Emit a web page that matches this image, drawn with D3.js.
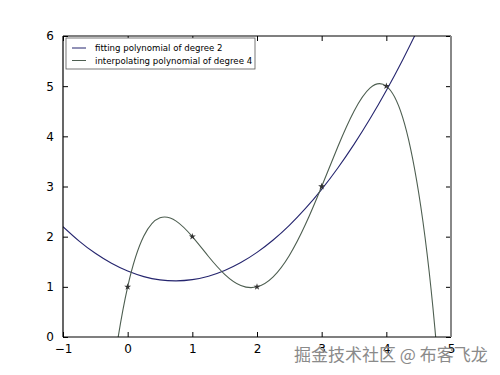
<!DOCTYPE html>
<html>
<head>
<meta charset="utf-8">
<script src="https://cdn.jsdelivr.net/npm/d3@7"></script>
<style>
  body { margin: 0; background: #fff; }
  text { font-family: "DejaVu Sans", sans-serif; }
</style>
</head>
<body>
<script>
var width = 500,
    height = 375;

// data points
var pointsX = [0, 1, 2, 3, 4],
    pointsY = [1, 2, 1, 3, 5];

var curveX = [-1, -0.75, -0.5, -0.25, 0, 0.25, 0.5, 0.75, 1, 1.25, 1.5, 1.75, 2, 2.25, 2.5, 2.75, 3, 3.25, 3.5, 3.75, 4, 4.25, 4.5, 4.75, 5];
var fitY = [2.2, 1.912, 1.668, 1.469, 1.314, 1.204, 1.139, 1.119, 1.143, 1.212, 1.325, 1.483, 1.686, 1.933, 2.225, 2.562, 2.943, 3.369, 3.839, 4.354, 4.914, 5.519, 6.168, 6.862, 7.6];
var interpX = [-0.75, -0.5, -0.25, 0, 0.25, 0.5, 0.75, 1, 1.25, 1.5, 1.75, 2, 2.25, 2.5, 2.75, 3, 3.25, 3.5, 3.75, 4, 4.25, 4.5, 4.75, 5];
var interpY = [-8.582, -4.0, -0.910, 1, 2.012, 2.375, 2.309, 2, 1.605, 1.25, 1.027, 1, 1.199, 1.625, 2.246, 3, 3.793, 4.5, 4.965, 5, 4.387, 2.875, 0.184, -4.0];

var xTicks = [-1, 0, 1, 2, 3, 4, 5],
    yTicks = [0, 1, 2, 3, 4, 5, 6];

var legendLabels = ["fitting polynomial of degree 2", "interpolating polynomial of degree 4"];
var colors = ["#25256e", "#4d5e50"];

var pLeft = 63, pRight = 451, pTop = 36, pBottom = 337;

var x = d3.scaleLinear().domain([-1, 5]).range([pLeft, pRight]);
var y = d3.scaleLinear().domain([0, 6]).range([pBottom, pTop]);

var svg = d3.select("body").append("svg")
    .attr("width", width)
    .attr("height", height);

svg.append("defs").append("clipPath")
    .attr("id", "plotclip")
  .append("rect")
    .attr("x", pLeft)
    .attr("y", pTop)
    .attr("width", pRight - pLeft)
    .attr("height", pBottom - pTop);

var plot = svg.append("g").attr("clip-path", "url(#plotclip)");

var line = d3.line()
    .x(function(d) { return x(d[0]); })
    .y(function(d) { return y(d[1]); })
    .curve(d3.curveNatural);

plot.append("path")
    .datum(d3.zip(curveX, fitY))
    .attr("d", line)
    .attr("fill", "none")
    .attr("stroke", colors[0])
    .attr("stroke-width", 1.1);

plot.append("path")
    .datum(d3.zip(interpX, interpY))
    .attr("d", line)
    .attr("fill", "none")
    .attr("stroke", colors[1])
    .attr("stroke-width", 1.1);

var star = d3.symbol().type(d3.symbolStar).size(15);
plot.selectAll(".pt")
    .data(d3.zip(pointsX, pointsY))
    .enter().append("path")
    .attr("class", "pt")
    .attr("transform", function(d) { return "translate(" + x(d[0]) + "," + y(d[1]) + ")"; })
    .attr("d", star)
    .attr("fill", "#333");

// axes: ticks pointing inward on all four sides
var fmt = function(d) { return d < 0 ? "\u2212" + Math.abs(d) : d; };

var xb = svg.append("g")
    .attr("transform", "translate(0," + pBottom + ")")
    .call(d3.axisBottom(x).tickValues(xTicks).tickSizeInner(-5).tickSizeOuter(0).tickPadding(7).tickFormat(fmt));
var xt = svg.append("g")
    .attr("transform", "translate(0," + pTop + ")")
    .call(d3.axisTop(x).tickValues(xTicks).tickSizeInner(-5).tickSizeOuter(0).tickFormat(""));
var yl = svg.append("g")
    .attr("transform", "translate(" + pLeft + ",0)")
    .call(d3.axisLeft(y).tickValues(yTicks).tickSizeInner(-5).tickSizeOuter(0).tickPadding(9).tickFormat(fmt));
var yr = svg.append("g")
    .attr("transform", "translate(" + pRight + ",0)")
    .call(d3.axisRight(y).tickValues(yTicks).tickSizeInner(-5).tickSizeOuter(0).tickFormat(""));

[xb, xt, yl, yr].forEach(function(g) {
  g.selectAll(".domain").remove();
  g.selectAll("line").attr("stroke", "#000");
  g.selectAll("text").attr("font-size", 12).attr("fill", "#000")
      .style("font-family", "'DejaVu Sans', sans-serif");
});

// spines
svg.append("line").attr("x1", pLeft).attr("x2", pRight).attr("y1", pTop).attr("y2", pTop)
    .attr("stroke", "#000").attr("stroke-width", 1.2);
svg.append("line").attr("x1", pLeft).attr("x2", pRight).attr("y1", pBottom).attr("y2", pBottom)
    .attr("stroke", "#000").attr("stroke-width", 1.2);
svg.append("line").attr("x1", pLeft).attr("x2", pLeft).attr("y1", pTop).attr("y2", pBottom)
    .attr("stroke", "#000").attr("stroke-width", 1.2);
svg.append("line").attr("x1", pRight).attr("x2", pRight).attr("y1", pTop).attr("y2", pBottom)
    .attr("stroke", "#888").attr("stroke-width", 2);

// legend
var legend = svg.append("g").attr("transform", "translate(66,38)");
legend.append("rect")
    .attr("width", 189)
    .attr("height", 31)
    .attr("fill", "#fff")
    .attr("stroke", "#555")
    .attr("stroke-width", 0.8);
var items = legend.selectAll(".item")
    .data(legendLabels)
    .enter().append("g")
    .attr("transform", function(d, i) { return "translate(0," + (10 + i * 12.5) + ")"; });
items.append("line")
    .attr("x1", 6).attr("x2", 20)
    .attr("stroke", function(d, i) { return colors[i]; })
    .attr("stroke-width", 1);
items.append("text")
    .attr("x", 29)
    .attr("dy", "0.35em")
    .attr("font-size", 8.6)
    .text(function(d) { return d; });

// watermark
svg.append("text")
    .attr("x", 294)
    .attr("y", 361)
    .attr("font-size", 17)
    .attr("fill", "#8a8a8a")
    .style("font-family", "'Noto Sans CJK SC', sans-serif")
    .text("掘金技术社区 @ 布客飞龙");
</script>
</body>
</html>
